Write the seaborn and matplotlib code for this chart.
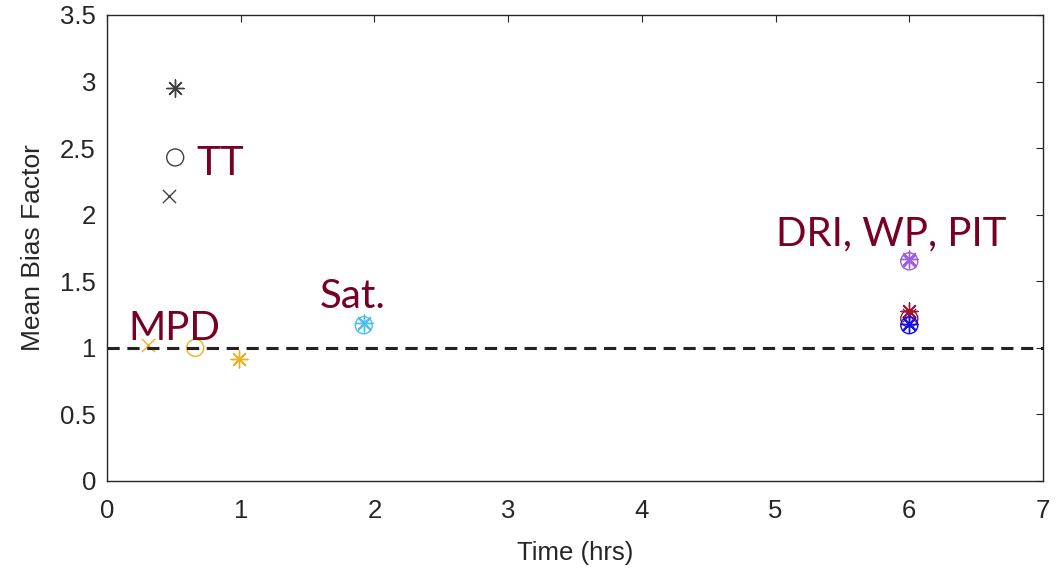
import numpy as np
import pandas as pd
import matplotlib
matplotlib.use("Agg")
import matplotlib.pyplot as plt
import seaborn as sns

# data (one value per source for each marker type)
sources = ['TT', 'MPD', 'Sat', 'DRI', 'WP', 'PIT']
x_cross = [0.46, 0.31, 1.92, 6.0, 6.0, 6.0]
y_cross = [2.14, 1.02, 1.18, 1.65, 1.25, 1.19]
x_circle = [0.51, 0.66, 1.92, 6.0, 6.0, 6.0]
y_circle = [2.43, 1.00, 1.17, 1.65, 1.22, 1.17]
x_star = [0.51, 0.99, 1.92, 6.0, 6.0, 6.0]
y_star = [2.95, 0.92, 1.19, 1.67, 1.28, 1.18]
colors = ['#404040', '#EDB120', '#4DBEEE', '#9B5FE0', '#A2142F', '#1010E8']

labels = ['TT', 'MPD', 'Sat.', 'DRI, WP, PIT']
label_x = [0.67, 0.16, 1.59, 5.0]
label_y = [2.30, 1.06, 1.30, 1.77]

df = pd.DataFrame({'source': sources,
                   'x_cross': x_cross, 'y_cross': y_cross,
                   'x_circle': x_circle, 'y_circle': y_circle,
                   'x_star': x_star, 'y_star': y_star,
                   'color': colors})

sns.set_style("white")
plt.rcParams['font.family'] = ['Liberation Sans', 'DejaVu Sans']

fig = plt.figure(figsize=(10.64, 5.75), dpi=100)
ax = fig.add_axes([107/1064, 94/575, 936/1064, 466/575])

asterisk = (8, 2, 0)
for _, row in df.iterrows():
    c = row['color']
    sns.scatterplot(x=[row['x_cross']], y=[row['y_cross']], marker='x', s=90,
                    color=c, edgecolor=c, linewidth=1.0, ax=ax)
    sns.scatterplot(x=[row['x_circle']], y=[row['y_circle']], marker='o', s=150,
                    facecolors='none', edgecolor=c, linewidth=1.0, ax=ax)
    sns.scatterplot(x=[row['x_star']], y=[row['y_star']], marker=asterisk, s=150,
                    color=c, edgecolor=c, linewidth=1.0, ax=ax)

ax.axhline(1, color='#222222', ls=(0, (4, 2.5)), lw=2.2, zorder=1)

for t, tx, ty in zip(labels, label_x, label_y):
    ax.text(tx, ty, t, fontsize=29, color='#780022', family=['Lato', 'DejaVu Sans'],
            ha='left', va='baseline')

ax.set_xlim(0, 7)
ax.set_ylim(0, 3.5)
ax.set_xticks(range(0, 8))
ax.set_yticks(np.arange(0, 3.51, 0.5))
ax.set_yticklabels(['0', '0.5', '1', '1.5', '2', '2.5', '3', '3.5'])
ax.tick_params(direction='in', length=5, width=0.8, colors='#262626',
               labelsize=18.5, top=True, right=True)
ax.tick_params(axis='x', pad=13)
ax.tick_params(axis='y', pad=8)
for sp in ax.spines.values():
    sp.set_color('#262626')
    sp.set_linewidth(1.0)
ax.set_xlabel('Time (hrs)', fontsize=18.5, color='#262626', labelpad=13)
ax.set_ylabel('Mean Bias Factor', fontsize=19, color='#262626', labelpad=11)

fig.savefig('out.png', dpi=100)
